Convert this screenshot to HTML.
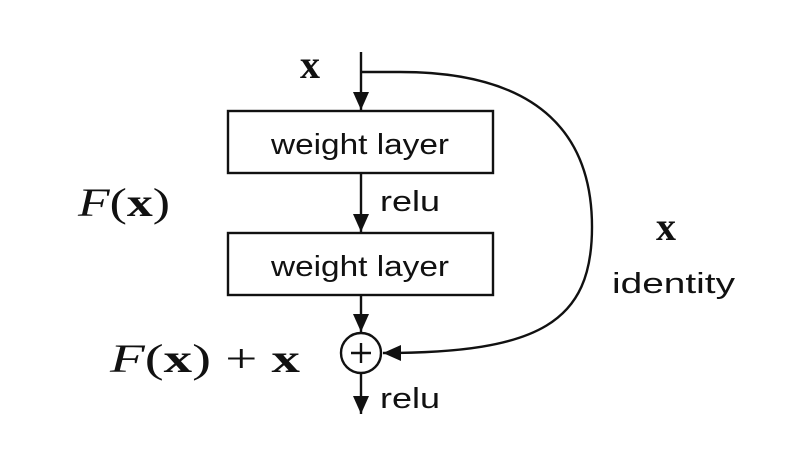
<!DOCTYPE html>
<html><head><meta charset="utf-8"><style>
html,body{margin:0;padding:0;background:#fff;}
svg{display:block;}
.s{font-family:"Liberation Sans",sans-serif;fill:#111;}
.m{font-family:"Liberation Serif",serif;fill:#111;}
</style></head><body>
<svg width="795" height="462" viewBox="0 0 795 462" xmlns="http://www.w3.org/2000/svg">
<defs>
<marker id="a" viewBox="0 0 10 10" refX="10" refY="5" markerWidth="18" markerHeight="16" markerUnits="userSpaceOnUse" orient="auto" preserveAspectRatio="none">
<path d="M0,0 L10,5 L0,10 z" fill="#111"/></marker>
</defs>
<g stroke="#111" stroke-width="2.4" fill="none">
<line x1="361" y1="52" x2="361" y2="110" marker-end="url(#a)"/>
<rect x="228" y="111" width="265" height="62"/>
<line x1="361" y1="173" x2="361" y2="232" marker-end="url(#a)"/>
<rect x="228" y="233" width="265" height="62"/>
<line x1="361" y1="295" x2="361" y2="332" marker-end="url(#a)"/>
<circle cx="361" cy="353" r="20"/>
<line x1="361" y1="343" x2="361" y2="363"/>
<line x1="351" y1="353" x2="371" y2="353"/>
<line x1="361" y1="373" x2="361" y2="414" marker-end="url(#a)"/>
<path d="M361,72 L400,72 C545,72 592,140 592,227 C592,322 540,353 383,353" marker-end="url(#a)"/>
</g>
<text class="s" x="360" y="154" font-size="29" text-anchor="middle" textLength="178" lengthAdjust="spacingAndGlyphs">weight layer</text>
<text class="s" x="360" y="276" font-size="29" text-anchor="middle" textLength="178" lengthAdjust="spacingAndGlyphs">weight layer</text>
<text class="s" x="380" y="211" font-size="29" textLength="60" lengthAdjust="spacingAndGlyphs">relu</text>
<text class="s" x="380" y="408" font-size="29" textLength="60" lengthAdjust="spacingAndGlyphs">relu</text>
<text class="s" x="612" y="293" font-size="29" textLength="123" lengthAdjust="spacingAndGlyphs">identity</text>
<text class="m" x="300" y="78" font-size="40" font-weight="bold">x</text>
<text class="m" x="656" y="240" font-size="40" font-weight="bold">x</text>
<text class="m" x="78" y="216" font-size="40" textLength="92" lengthAdjust="spacingAndGlyphs"><tspan font-style="italic">F</tspan>(<tspan font-weight="bold">x</tspan>)</text>
<text class="m" x="110" y="372" font-size="40" textLength="190" lengthAdjust="spacingAndGlyphs"><tspan font-style="italic">F</tspan>(<tspan font-weight="bold">x</tspan>) + <tspan font-weight="bold">x</tspan></text>
</svg>
</body></html>
